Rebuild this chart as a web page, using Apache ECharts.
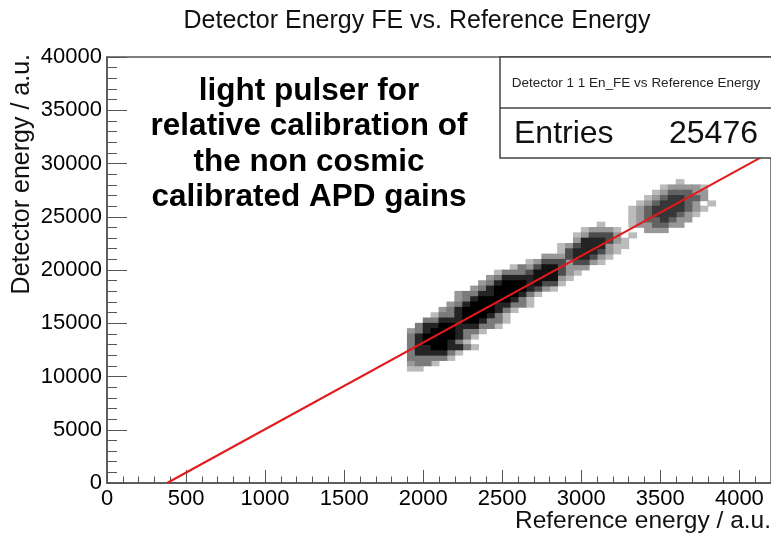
<!DOCTYPE html>
<html><head><meta charset="utf-8">
<script src="https://cdn.jsdelivr.net/npm/echarts@6/dist/echarts.min.js"></script>
<style>html,body{margin:0;padding:0;background:#fff}#c{width:771px;height:534px}</style>
</head><body><div id="c"></div>
<script>
// ---- texts ----
const chartTitle = 'Detector Energy FE vs. Reference Energy';
const xAxisTitle = 'Reference energy / a.u.';
const yAxisTitle = 'Detector energy / a.u.';
const statsTitle = 'Detector 1 1 En_FE vs Reference Energy';
const statsLabel = 'Entries';
const statsEntries = 25476;
const noteLines = ['light pulser for', 'relative calibration of', 'the non cosmic', 'calibrated APD gains'];

// ---- axes ----
const xRange = [0, 4200];
const yRange = [0, 40000];
const xTickStep = 500;
const yTickStep = 5000;

// ---- 2D histogram (estimated density level 0-9 per bin) ----
const binXStart = 1850, binXWidth = 50;
const binYStart = 10500, binYWidth = 500;
// each row: [index of first x bin, density levels]; row 0 = lowest detector-energy bin
const densityRows = [
  [1, '11'],
  [1, '2331'],
  [1, '333331'],
  [1, '3777731'],
  [1, '377997731'],
  [1, '37999731'],
  [1, '379999731'],
  [1, '2379997331'],
  [2, '37799777331'],
  [3, '33777997331'],
  [4, '1337999731'],
  [5, '2379999731'],
  [6, '23799977331'],
  [7, '2379999731'],
  [7, '23377999731'],
  [9, '23799997521'],
  [10, '23799978551'],
  [11, '23777788821'],
  [12, '13335888521'],
  [14, '1325885222'],
  [16, '1255525521'],
  [18, '222577521'],
  [20, '15777521'],
  [20, '125777211'],
  [22, '2777521'],
  [22, '12555201'],
  [23, '12221000222'],
  [25, '10001224422'],
  [29, '12446422'],
  [29, '124666421'],
  [29, '1246666421'],
  [30, '1246664201'],
  [31, '12466442'],
  [32, '1244422'],
  [33, '122221'],
  [35, '1']
];

// ---- linear fit ----
const fitX = [380, 4200];
const fitY = [0, 31100];

// ---- build ----
const G = {left: 107, top: 57, width: 670, height: 426};
const FONT = 'Liberation Sans';
const cells = [];
densityRows.forEach((row, j) => {
  const first = row[0], levels = row[1];
  for (let k = 0; k < levels.length; k++) {
    const d = +levels[k];
    if (d > 0) cells.push([binXStart + binXWidth * (first + k + 0.5), binYStart + binYWidth * (j + 0.5), d]);
  }
});
cells.sort((a, b) => a[2] - b[2]);
const cellW = G.width * binXWidth / (xRange[1] - xRange[0]);
const cellH = G.height * binYWidth / (yRange[1] - yRange[0]);
function levelColor(d) {
  const v = Math.round(255 * (1 - Math.pow(d / 9, 0.6)));
  return 'rgb(' + v + ',' + v + ',' + v + ')';
}
const fitData = fitX.map((x, i) => [x, fitY[i]]);

const axisCol = '#555';
const chart = echarts.init(document.getElementById('c'));
chart.setOption({
  animation: false,
  backgroundColor: '#fff',
  grid: {left: G.left, top: G.top, width: G.width, height: G.height, show: true, borderColor: axisCol, borderWidth: 1.5},
  xAxis: {
    type: 'value', min: xRange[0], max: xRange[1], interval: xTickStep,
    axisLine: {show: true, lineStyle: {color: axisCol, width: 1.5}},
    axisTick: {show: true, inside: true, length: 13, lineStyle: {color: axisCol, width: 1}},
    minorTick: {show: true, splitNumber: 5, length: 6.5, lineStyle: {color: axisCol, width: 1}},
    splitLine: {show: false},
    axisLabel: {color: '#000', fontSize: 22, fontFamily: FONT, margin: 5, showMaxLabel: false, formatter: v => String(v)}
  },
  yAxis: {
    type: 'value', min: yRange[0], max: yRange[1], interval: yTickStep,
    axisLine: {show: true, lineStyle: {color: axisCol, width: 1.5}},
    axisTick: {show: true, inside: true, length: 20, lineStyle: {color: axisCol, width: 1}},
    minorTick: {show: true, splitNumber: 5, length: 10, lineStyle: {color: axisCol, width: 1}},
    splitLine: {show: false},
    axisLabel: {color: '#000', fontSize: 22, fontFamily: FONT, margin: 5, formatter: v => String(v)}
  },
  series: [
    {
      type: 'scatter', data: cells, symbol: 'rect',
      symbolSize: [cellW + 0.8, cellH + 0.8],
      itemStyle: {color: p => levelColor(p.value[2]), opacity: 1, borderWidth: 0},
      silent: true, z: 2
    },
    {
      type: 'line', data: fitData, symbol: 'none', z: 5, clip: true,
      lineStyle: {color: '#e3191c', width: 2}
    }
  ],
  graphic: [
    {type: 'text', x: 417, y: 21, z: 100, style: {text: chartTitle, font: '25px ' + FONT, fill: '#111', textAlign: 'center', textVerticalAlign: 'middle'}},
    {type: 'text', x: 22, y: 54, rotation: Math.PI / 2, z: 100, style: {text: yAxisTitle, font: '25px ' + FONT, fill: '#111', textAlign: 'right', textVerticalAlign: 'middle'}},
    {type: 'text', x: 771, y: 521, z: 100, style: {text: xAxisTitle, font: '24.5px ' + FONT, fill: '#111', textAlign: 'right', textVerticalAlign: 'middle'}},
    {type: 'rect', z: 100, shape: {x: 500, y: 57, width: 290, height: 101}, style: {fill: '#fff', stroke: '#444', lineWidth: 1.5}},
    {type: 'line', z: 101, shape: {x1: 500, y1: 108, x2: 790, y2: 108}, style: {stroke: '#444', lineWidth: 1.5}},
    {type: 'text', x: 636, y: 83, z: 102, style: {text: statsTitle, font: '13.5px ' + FONT, fill: '#222', textAlign: 'center', textVerticalAlign: 'middle'}},
    {type: 'text', x: 514, y: 134, z: 102, style: {text: statsLabel, font: '32px ' + FONT, fill: '#111', textAlign: 'left', textVerticalAlign: 'middle'}},
    {type: 'text', x: 758, y: 134, z: 102, style: {text: String(statsEntries), font: '32px ' + FONT, fill: '#111', textAlign: 'right', textVerticalAlign: 'middle'}}
  ].concat(noteLines.map((t, i) => ({
    type: 'text', x: 309, y: 91 + i * 35.5, z: 100,
    style: {text: t, font: 'bold 31.5px ' + FONT, fill: '#000', textAlign: 'center', textVerticalAlign: 'middle'}
  })))
});
</script>
</body></html>
